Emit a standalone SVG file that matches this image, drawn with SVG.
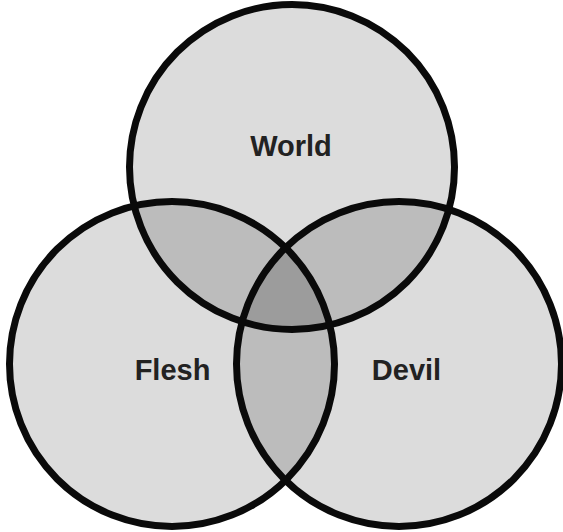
<svg xmlns="http://www.w3.org/2000/svg" width="563" height="532" viewBox="0 0 563 532">
<style>
.base{fill:#dcdcdc}
.pair{fill:#bcbcbc}
.tri{fill:#9c9c9c}
.ring{fill:none;stroke:#0a0a0a;stroke-width:7}
.lbl{font-family:"Liberation Sans",Arial,sans-serif;font-weight:bold;font-size:29px;fill:#222;text-anchor:middle}
</style>
<defs>
<circle id="cW" cx="292" cy="167" r="162.5"/>
<circle id="cF" cx="172" cy="364" r="162.5"/>
<circle id="cD" cx="399" cy="364" r="162.5"/>
<clipPath id="clipW"><use href="#cW"/></clipPath>
<clipPath id="clipF"><use href="#cF"/></clipPath>
<clipPath id="clipD"><use href="#cD"/></clipPath>
</defs>
<rect width="563" height="532" fill="#ffffff"/>
<g id="fills">
<use href="#cW" class="base"/>
<use href="#cF" class="base"/>
<use href="#cD" class="base"/>
<use href="#cW" class="pair" clip-path="url(#clipF)"/>
<use href="#cW" class="pair" clip-path="url(#clipD)"/>
<use href="#cF" class="pair" clip-path="url(#clipD)"/>
<g clip-path="url(#clipD)"><use href="#cW" class="tri" clip-path="url(#clipF)"/></g>
</g>
<g id="world"><use href="#cW" class="ring"/><text class="lbl" x="291" y="156">World</text></g>
<g id="flesh"><use href="#cF" class="ring"/><text class="lbl" x="172.5" y="380">Flesh</text></g>
<g id="devil"><use href="#cD" class="ring"/><text class="lbl" x="406.5" y="380">Devil</text></g>
</svg>
